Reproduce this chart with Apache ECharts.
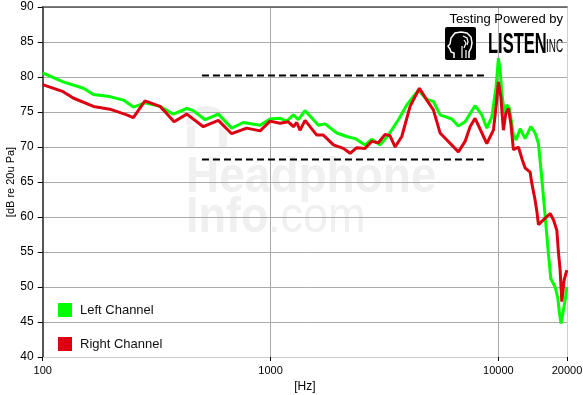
<!DOCTYPE html>
<html><head><meta charset="utf-8">
<script src="https://cdn.jsdelivr.net/npm/echarts@6/dist/echarts.min.js"></script>
<style>html,body{margin:0;padding:0;background:#fff}#c{width:583px;height:395px}</style>
</head><body><div id="c"></div>
<script>
const xTicks = [100, 1000, 10000, 20000];
const seriesNames = ['Left Channel', 'Right Channel'];
const leftChannel = [[100,80.6],[123,79.3],[151,78.4],[167,77.5],[197,77.2],[226,76.7],[250,75.7],[281,76.3],[327,75.8],[374,74.7],[429,75.5],[458,75.2],[516,73.9],[590,74.7],[675,72.7],[760,73.5],[900,73.1],[995,74.0],[1101,74.1],[1178,73.7],[1260,74.6],[1325,73.9],[1417,75.2],[1621,73.1],[1735,73.3],[1953,72.0],[2160,71.5],[2350,71.2],[2599,70.3],[2781,71.1],[3025,70.3],[3289,71.7],[3639,73.9],[3962,76.0],[4455,78.1],[4851,76.8],[5184,76.5],[5547,74.6],[6244,74.0],[6674,73.0],[7141,73.6],[7900,75.9],[8456,74.6],[8894,72.7],[9354,74.3],[9770,78.6],[10000,82.7],[10175,81.0],[10350,77.7],[10625,74.8],[10887,76.0],[11176,75.5],[11640,71.7],[11963,71.0],[12456,72.6],[13100,71.2],[13877,72.9],[14494,72.0],[14983,70.5],[15400,66.5],[15760,62.9],[16190,58.6],[16570,54.8],[16980,51.2],[17740,50.0],[18230,48.4],[18530,46.2],[18850,44.8],[19290,46.7],[19630,48.1],[19970,50.0]];
const rightChannel = [[100,78.9],[123,77.9],[136,77.0],[167,75.8],[197,75.4],[234,74.6],[250,74.2],[281,76.6],[327,75.8],[350,74.8],[377,73.6],[429,74.7],[507,72.9],[590,73.8],[675,71.9],[786,72.7],[900,72.3],[995,73.7],[1101,73.4],[1197,73.6],[1260,72.9],[1303,73.5],[1347,72.4],[1417,73.8],[1595,71.7],[1705,71.7],[1887,70.3],[2088,69.8],[2234,69.1],[2390,69.9],[2599,69.8],[2781,70.8],[2973,70.6],[3181,71.8],[3346,71.6],[3520,70.0],[3766,71.5],[4096,75.8],[4500,78.4],[4851,76.7],[5184,75.3],[5547,72.0],[6674,69.3],[7141,70.8],[7510,72.9],[7900,74.1],[8894,70.5],[9508,72.4],[9770,75.8],[10000,79.3],[10245,77.2],[10518,72.4],[10778,74.8],[11064,75.5],[11335,73.4],[11640,69.6],[12240,70.0],[12746,68.1],[13100,67.0],[13780,66.4],[14020,64.8],[14494,62.4],[14750,60.8],[14983,58.9],[16870,60.5],[17440,59.6],[18050,58.1],[18340,55.0],[18660,52.4],[18980,47.9],[19430,51.0],[19970,52.4]];
const guideUpper = [[500,80.2],[9000,80.2]];
const guideLower = [[500,68.2],[9000,68.2]];

const FONT = 'Liberation Sans';
const chart = echarts.init(document.getElementById('c'), null, {renderer:'canvas'});
const WM = '#f0f0f0';
const headPts = [[9,31],[9,26],[6,25],[5,22],[3,19],[5,17],[6,11],[10,6],[16,5],[22,6],[26,10],[27,16],[26,21],[24,25],[24,31]];
const brain1 = [[18,9],[22,11],[23,15],[22,18]];
const brain2 = [[19,13],[21,16],[19,21]];
chart.setOption({
  animation:false,
  backgroundColor:'#fff',
  grid:{left:42.7, right:16, top:7, bottom:38, containLabel:false, outerBoundsMode:'none'},
  legend:{
    data:seriesNames, orient:'vertical', left:53, top:298, itemWidth:14, itemHeight:14, itemGap:20,
    icon:'rect', textStyle:{fontFamily:FONT, fontSize:13, color:'#111', padding:[0,0,0,3]}
  },
  xAxis:[{
    type:'log', logBase:10, min:100, max:20000,
    name:'[Hz]', nameLocation:'middle', nameGap:24, nameMoveOverlap:false,
    nameTextStyle:{fontFamily:FONT, fontSize:12, color:'#000'},
    axisLine:{show:true, lineStyle:{color:'#cfcfcf', width:1}},
    axisTick:{show:true, length:4, customValues:xTicks, lineStyle:{color:'#000', width:1}},
    axisLabel:{customValues:xTicks, margin:8, fontFamily:FONT, fontSize:11, color:'#000', formatter:(v)=>String(Math.round(v))},
    splitLine:{show:true, lineStyle:{color:'#aaaaaa', width:1}},
    minorTick:{show:false}
  },{
    type:'log', logBase:10, min:100, max:20000, position:'top',
    axisLine:{show:true, lineStyle:{color:'#555', width:1.5}},
    axisTick:{show:false}, axisLabel:{show:false}, splitLine:{show:false}
  }],
  yAxis:[{
    type:'value', min:40, max:90, interval:5,
    name:'[dB re 20u Pa]', nameLocation:'middle', nameGap:26, nameRotate:90, nameMoveOverlap:false,
    nameTextStyle:{fontFamily:FONT, fontSize:11, color:'#000'},
    axisLine:{show:true, lineStyle:{color:'#555', width:2}},
    axisTick:{show:true, length:5, lineStyle:{color:'#000', width:1}},
    axisLabel:{margin:9, fontFamily:FONT, fontSize:12, color:'#000'},
    splitLine:{show:true, lineStyle:{color:'#aaaaaa', width:1}}
  },{
    type:'value', min:40, max:90, interval:5, position:'right',
    axisLine:{show:true, lineStyle:{color:'#cfcfcf', width:1}},
    axisTick:{show:false}, axisLabel:{show:false}, splitLine:{show:false}
  }],
  graphic:{elements:[
    {type:'arc', z:-1, shape:{cx:207, cy:128, r:19, startAngle:Math.PI*1.05, endAngle:Math.PI*1.95}, style:{stroke:WM, lineWidth:6, fill:null}},
    {type:'rect', z:-1, shape:{x:187, y:126, width:8, height:22}, style:{fill:WM}},
    {type:'rect', z:-1, shape:{x:219, y:126, width:8, height:22}, style:{fill:WM}},
    {type:'text', z:-1, x:186, y:178, scaleX:0.92, style:{text:'Headphone', fontFamily:FONT, fontWeight:'bold', fontSize:50, fill:WM, verticalAlign:'middle', align:'left'}},
    {type:'text', z:-1, x:186, y:218, scaleX:0.9, style:{text:'Info', fontFamily:FONT, fontWeight:'bold', fontSize:50, fill:WM, verticalAlign:'middle', align:'left'}},
    {type:'text', z:-1, x:268, y:218, scaleX:0.9, style:{text:'.com', fontFamily:FONT, fontSize:50, fill:WM, verticalAlign:'middle', align:'left'}},
    {type:'text', z:21, x:563, y:19, style:{text:'Testing Powered by', fontFamily:FONT, fontSize:13, fill:'#000', align:'right', verticalAlign:'middle'}},
    {type:'rect', z:21, shape:{x:445, y:27, width:31, height:33, r:2}, style:{fill:'#000'}},
    {type:'polyline', z:22, x:445, y:27, shape:{points:headPts}, style:{stroke:'#fff', lineWidth:1.5, fill:null}},
    {type:'polyline', z:22, x:445, y:27, shape:{points:brain1}, style:{stroke:'#fff', lineWidth:1.2, fill:null}},
    {type:'polyline', z:22, x:445, y:27, shape:{points:brain2}, style:{stroke:'#fff', lineWidth:1.2, fill:null}},
    {type:'line', z:22, x:445, y:27, shape:{x1:17, y1:19, x2:17, y2:31}, style:{stroke:'#fff', lineWidth:1.2}},
    {type:'line', z:22, x:445, y:27, shape:{x1:21, y1:23, x2:21, y2:31}, style:{stroke:'#fff', lineWidth:1.2}},
    {type:'text', z:21, x:488, y:45, scaleX:0.55, style:{text:'LISTEN', fontFamily:FONT, fontWeight:'bold', fontSize:30, fill:'#000', align:'left', verticalAlign:'middle'}},
    {type:'text', z:21, x:546, y:47, scaleX:0.55, style:{text:'INC', fontFamily:FONT, fontSize:18, fill:'#000', align:'left', verticalAlign:'middle'}}
  ]},
  series:[
    {name:'Left Channel', type:'line', data:leftChannel, showSymbol:false, symbol:'none', color:'#00ff00', lineStyle:{width:3, color:'#00ff00'}, z:3},
    {name:'Right Channel', type:'line', data:rightChannel, showSymbol:false, symbol:'none', color:'#dd0011', lineStyle:{width:3, color:'#dd0011'}, z:4},
    {name:'upper', type:'line', data:guideUpper, symbol:'none', lineStyle:{width:2, color:'#000', type:[7,4]}, z:5},
    {name:'lower', type:'line', data:guideLower, symbol:'none', lineStyle:{width:2, color:'#000', type:[7,4]}, z:5}
  ]
});
</script></body></html>
